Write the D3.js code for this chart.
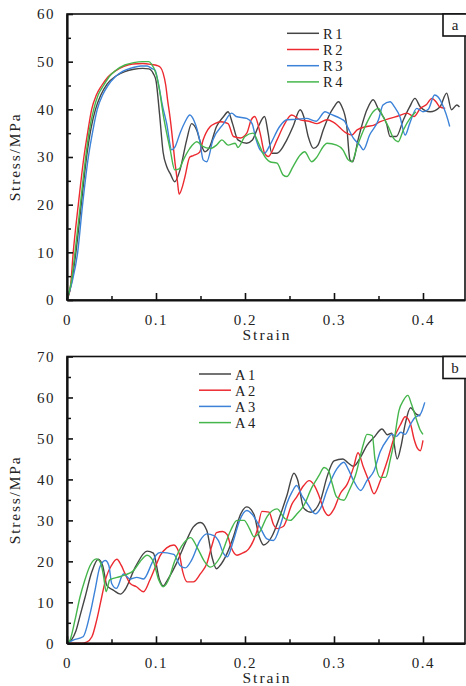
<!DOCTYPE html>
<html><head><meta charset="utf-8">
<script src="https://cdn.jsdelivr.net/npm/d3@7"></script>
<style>
body{margin:0;background:#fff;}
svg text{font-family:"Liberation Serif","Times New Roman",serif;fill:#222;}
</style></head>
<body><svg id="c" width="466" height="686"></svg>
<script>
// ---- data ----
const xTicks = [0, 0.1, 0.2, 0.3, 0.4];
const xTickLabels = ["0", "0.1", "0.2", "0.3", "0.4"];
const yTicksA = [0, 10, 20, 30, 40, 50, 60];
const yTicksB = [0, 10, 20, 30, 40, 50, 60, 70];
const namesA = ["R1", "R2", "R3", "R4"];
const namesB = ["A1", "A2", "A3", "A4"];
const colors = ["#454545", "#ec2a30", "#3b82d8", "#45b64c"];

const R1 = [[0,0],[0.005,3.5],[0.01,10],[0.016,20],[0.022,30],[0.027,36],[0.032,40],[0.038,43],[0.045,45.3],[0.055,47],[0.065,47.9],[0.075,48.4],[0.085,48.6],[0.092,48.5],[0.097,47.5],[0.1,46],[0.104,39],[0.108,31],[0.112,28],[0.116,26.5],[0.121,24.8],[0.127,27.3],[0.1345,33.6],[0.14,37],[0.146,35.5],[0.15,33],[0.155,31.1],[0.16,32],[0.168,36.4],[0.176,38.5],[0.181,39.5],[0.186,37],[0.192,33.6],[0.202,32.9],[0.208,33.5],[0.215,36.4],[0.222,38.5],[0.226,35],[0.23,30.8],[0.236,30.8],[0.247,33.6],[0.254,36.4],[0.262,39.9],[0.266,38.5],[0.271,34.3],[0.277,31.8],[0.282,32.5],[0.288,35.7],[0.294,38.5],[0.3,40.5],[0.305,41.6],[0.309,40.5],[0.314,37],[0.318,29.4],[0.321,29],[0.327,33.6],[0.337,39.9],[0.344,42],[0.35,40],[0.359,37],[0.363,34.3],[0.37,34.3],[0.378,37.8],[0.385,40.5],[0.391,42.3],[0.397,40.5],[0.408,39.5],[0.419,40.5],[0.4266,43.4],[0.432,39.9],[0.438,40.9],[0.441,40.5]];
const R2 = [[0,0],[0.004,3],[0.007,10],[0.0127,20],[0.019,30],[0.0235,35.5],[0.0277,40],[0.033,43],[0.039,45],[0.046,46.8],[0.054,48],[0.064,49],[0.074,49.5],[0.085,49.6],[0.095,49.4],[0.101,49.2],[0.105,48.8],[0.108,47.6],[0.111,45],[0.113,42],[0.116,38],[0.119,33],[0.121,29.4],[0.124,25],[0.126,22.2],[0.13,24],[0.1326,25.9],[0.138,30],[0.142,30.3],[0.149,31],[0.153,33.6],[0.161,36.4],[0.166,37],[0.173,37.4],[0.181,37],[0.187,34.3],[0.195,34],[0.202,35],[0.207,37.8],[0.211,38.5],[0.217,35],[0.222,30.8],[0.226,30.1],[0.236,33.6],[0.243,36.4],[0.2525,38.8],[0.262,37.8],[0.272,37.5],[0.281,37],[0.292,37.8],[0.3,37.2],[0.314,35],[0.32,34.6],[0.326,35.7],[0.337,36.4],[0.345,36.7],[0.352,37.4],[0.363,38.1],[0.372,38.6],[0.382,39.2],[0.39,38.5],[0.397,40.2],[0.404,41],[0.41,42.3],[0.415,41.5],[0.419,40.5],[0.425,40.2]];
const R3 = [[0,0],[0.006,4],[0.012,10],[0.0175,20],[0.024,30],[0.029,35.5],[0.034,40],[0.04,43],[0.046,45],[0.054,46.8],[0.063,48],[0.073,48.7],[0.083,49.1],[0.09,49.1],[0.095,48.6],[0.099,48.2],[0.1026,45.5],[0.107,41],[0.112,37],[0.1176,31.5],[0.121,32],[0.127,35],[0.133,37.5],[0.138,38.8],[0.143,37.5],[0.149,33.6],[0.153,29.4],[0.157,29],[0.164,33.6],[0.176,37],[0.185,39.2],[0.19,38.5],[0.202,38.1],[0.208,37],[0.212,34],[0.217,31.5],[0.222,30.8],[0.228,32.5],[0.239,36.4],[0.247,37.8],[0.258,37.9],[0.269,38.1],[0.28,37.5],[0.29,39.5],[0.296,39],[0.307,38.1],[0.312,37.5],[0.316,36],[0.322,33.9],[0.329,32.5],[0.333,31.5],[0.34,34.6],[0.35,37.8],[0.355,40.9],[0.363,41.6],[0.368,40.5],[0.374,38.5],[0.38,34.6],[0.385,37],[0.393,40.2],[0.4,39.5],[0.406,40],[0.413,43],[0.417,42.6],[0.423,40.5],[0.428,37.8],[0.43,36.4]];
const R4 = [[0,0],[0.005,4],[0.009,10],[0.015,20],[0.021,30],[0.025,35.5],[0.03,40],[0.035,43],[0.041,45],[0.048,47],[0.055,48.2],[0.065,49.3],[0.075,49.8],[0.085,50],[0.092,50],[0.095,49.5],[0.1,47.5],[0.104,44],[0.108,39],[0.112,35],[0.116,31.5],[0.121,27.3],[0.126,27.5],[0.131,29.5],[0.138,31.8],[0.146,33.2],[0.152,32.3],[0.161,31.8],[0.168,32.5],[0.174,33.6],[0.181,32.5],[0.189,32.9],[0.192,32],[0.2,34.3],[0.209,35],[0.215,33],[0.22,30.8],[0.228,29],[0.236,28.7],[0.243,26.2],[0.247,25.9],[0.254,28],[0.262,30.4],[0.267,31.1],[0.275,29],[0.28,29.8],[0.288,32.2],[0.292,32.9],[0.303,32.5],[0.31,31.5],[0.316,29.4],[0.32,29],[0.326,32.2],[0.335,36.4],[0.344,39.5],[0.35,40.2],[0.355,38.5],[0.361,36.4],[0.367,33.9],[0.372,33.2],[0.378,35.7],[0.385,38],[0.392,39.5]];

const A1 = [[0,0],[0.005,0.8],[0.01,3],[0.015,7],[0.02,11],[0.028,17.5],[0.035,20.5],[0.04,19],[0.045,14],[0.052,13],[0.06,12],[0.065,13],[0.077,18.7],[0.09,22.5],[0.097,22],[0.104,15.5],[0.108,14],[0.113,15.5],[0.123,19.5],[0.134,25],[0.142,28.4],[0.15,29.5],[0.157,27.6],[0.163,21],[0.168,18.2],[0.172,19],[0.18,22],[0.187,26],[0.195,31.5],[0.202,33.3],[0.21,31.5],[0.216,26],[0.221,24],[0.23,26],[0.24,31.5],[0.247,36],[0.255,41.5],[0.259,40],[0.266,33],[0.274,32],[0.285,35],[0.292,40.5],[0.3,44.5],[0.31,45],[0.316,44],[0.322,43.2],[0.33,45.5],[0.337,48.3],[0.345,50.3],[0.354,52.3],[0.36,50.9],[0.365,51.3],[0.371,45],[0.375,47.8],[0.38,53.5],[0.386,57.5],[0.392,56],[0.397,55.5]];
const A2 = [[0,0],[0.015,0],[0.022,0.3],[0.028,1.6],[0.0333,5.6],[0.039,11.3],[0.044,16.1],[0.05,19],[0.056,20.5],[0.061,19],[0.0652,17],[0.071,14.6],[0.078,13.8],[0.086,12.6],[0.093,15.4],[0.099,18.5],[0.105,21.5],[0.112,23.3],[0.12,24],[0.126,22],[0.13,17.5],[0.135,15],[0.142,15],[0.15,17],[0.157,19.4],[0.163,24],[0.168,27],[0.175,27.3],[0.18,26.5],[0.184,23.7],[0.191,21.5],[0.197,22],[0.204,23],[0.214,27.8],[0.219,32.2],[0.227,32],[0.232,29],[0.236,28],[0.243,28.5],[0.253,34.1],[0.258,35.7],[0.266,38.5],[0.272,39.7],[0.278,38.5],[0.283,36.1],[0.289,32.4],[0.294,31.2],[0.3,32.8],[0.307,36.5],[0.315,38.9],[0.322,43],[0.327,46.5],[0.333,43],[0.339,39.7],[0.345,36.5],[0.352,39.7],[0.36,44.6],[0.367,49.8],[0.375,53.5],[0.38,55.3],[0.386,53.5],[0.39,49.8],[0.394,47.5],[0.397,47],[0.4,49.5]];
const A3 = [[0,0],[0.007,0.8],[0.018,1.6],[0.026,7.3],[0.0315,13],[0.037,18.7],[0.043,20.2],[0.047,19],[0.0502,14.6],[0.0555,13.4],[0.0634,16.9],[0.071,15.7],[0.0784,16.1],[0.086,15.7],[0.0953,19.5],[0.1,21.5],[0.105,22.2],[0.12,21.7],[0.127,19],[0.133,18.4],[0.14,20.3],[0.1496,25.1],[0.157,26.7],[0.165,26.3],[0.17,25.1],[0.176,21.9],[0.18,21.1],[0.187,25.1],[0.194,30],[0.202,32.4],[0.208,31.5],[0.217,28.3],[0.2246,25.5],[0.232,25.1],[0.24,29],[0.247,34.1],[0.253,37],[0.258,38.5],[0.264,36],[0.27,34.1],[0.279,31.6],[0.285,33],[0.292,37.3],[0.303,42.5],[0.311,44.2],[0.316,42.5],[0.322,39.7],[0.33,37.3],[0.337,39.7],[0.345,42.1],[0.352,46.8],[0.36,49.8],[0.365,51],[0.37,50.5],[0.375,51.5],[0.38,51],[0.386,53.5],[0.391,55.1],[0.397,55.9],[0.402,58.8]];
const A4 = [[0,0],[0.0034,0.8],[0.009,5.7],[0.0146,11.3],[0.02,15.4],[0.026,19],[0.033,20.6],[0.038,19.5],[0.041,16.5],[0.044,12.6],[0.048,15.5],[0.06,16.3],[0.075,17.8],[0.082,19.9],[0.09,21.5],[0.097,20],[0.103,15.5],[0.108,13.8],[0.115,16],[0.12,19.5],[0.132,24.7],[0.139,25.8],[0.146,23.5],[0.155,19.8],[0.161,18.6],[0.172,21],[0.184,27.6],[0.191,30],[0.199,30],[0.205,28],[0.21,26],[0.216,27],[0.225,31],[0.236,32.8],[0.245,30.4],[0.251,30],[0.258,31.5],[0.266,33.6],[0.275,38],[0.283,40.9],[0.289,42.9],[0.294,42.1],[0.298,39],[0.303,35.7],[0.311,34.9],[0.317,37.3],[0.324,40.9],[0.333,48.6],[0.337,51],[0.343,50.7],[0.346,45],[0.352,40.5],[0.358,40.5],[0.363,44.6],[0.367,48.7],[0.373,56.8],[0.378,59.3],[0.383,60.5],[0.387,58.4],[0.393,54.4],[0.397,52],[0.4,51]];

// ---- drawing ----
const svg = d3.select("#c");
const X0 = 67, X1 = 465;

function panel(cfg) {
  const g = svg.append("g");
  const x = d3.scaleLinear().domain([0, 0.4472]).range([X0, X1]);
  const y = d3.scaleLinear().domain([0, cfg.yMax]).range([cfg.bottom, cfg.top]);
  const line = d3.line().x(d => x(d[0])).y(d => y(d[1])).curve(d3.curveMonotoneX);

  cfg.series.forEach((s, i) => {
    g.append("path").datum(s).attr("d", line)
      .attr("fill", "none").attr("stroke", colors[i]).attr("stroke-width", 1.4)
      .attr("stroke-linejoin", "round");
  });

  // frame
  g.append("rect").attr("x", X0).attr("y", cfg.top).attr("width", X1 - X0).attr("height", cfg.bottom - cfg.top)
    .attr("fill", "none").attr("stroke", "#111").attr("stroke-width", 1.6);

  // x axis
  const xa = g.append("g").attr("transform", `translate(0,${cfg.bottom})`)
    .call(d3.axisBottom(x).tickValues(xTicks).tickFormat((d, i) => xTickLabels[i]).tickSizeInner(-7).tickSizeOuter(0).tickPadding(14));
  xa.select(".domain").attr("stroke", "#111").attr("stroke-width", 2.2);
  xa.selectAll(".tick line").attr("stroke", "#111").attr("stroke-width", 1.6);
  xa.selectAll("text").style("font-size", "15px").style("letter-spacing", "1.5px").attr("fill", "#222").attr("font-family", "Liberation Serif");
  const xm = g.append("g").attr("transform", `translate(0,${cfg.bottom})`)
    .call(d3.axisBottom(x).tickValues([0.05, 0.15, 0.25, 0.35]).tickFormat("").tickSizeInner(-4).tickSizeOuter(0));
  xm.select(".domain").remove();
  xm.selectAll(".tick line").attr("stroke", "#111").attr("stroke-width", 1.5);

  // y axis
  const ya = g.append("g").attr("transform", `translate(${X0},0)`)
    .call(d3.axisLeft(y).tickValues(cfg.yTicks).tickFormat(d => String(d)).tickSizeInner(-6).tickSizeOuter(0).tickPadding(12));
  ya.select(".domain").attr("stroke", "#111").attr("stroke-width", 2.2);
  ya.selectAll(".tick line").attr("stroke", "#111").attr("stroke-width", 1.6);
  ya.selectAll("text").style("font-size", "15px").style("letter-spacing", "1.5px").attr("fill", "#222").attr("font-family", "Liberation Serif");
  const yMinor = d3.range(5, cfg.yMax, 10);
  const ym = g.append("g").attr("transform", `translate(${X0},0)`)
    .call(d3.axisLeft(y).tickValues(yMinor).tickFormat("").tickSizeInner(-4).tickSizeOuter(0));
  ym.select(".domain").remove();
  ym.selectAll(".tick line").attr("stroke", "#111").attr("stroke-width", 1.5);

  // axis titles
  g.append("text").attr("x", 267).attr("y", cfg.bottom + 40).attr("text-anchor", "middle")
    .style("font-size", "15.5px").style("letter-spacing", "2px").text("Strain");
  g.append("text").attr("transform", `translate(20,${(cfg.top + cfg.bottom) / 2}) rotate(-90)`)
    .attr("text-anchor", "middle").style("font-size", "15.5px").style("letter-spacing", "1.8px").text("Stress/MPa");

  // panel tag
  g.append("rect").attr("x", 443).attr("y", cfg.top).attr("width", 24).attr("height", 22)
    .attr("fill", "#fff").attr("stroke", "#111").attr("stroke-width", 1.6);
  g.append("text").attr("x", 455).attr("y", cfg.top + 16).attr("text-anchor", "middle")
    .style("font-size", "15px").text(cfg.tag);

  // legend
  cfg.names.forEach((n, i) => {
    const ly = cfg.legY + i * 16.2;
    g.append("line").attr("x1", cfg.legX).attr("x2", cfg.legX + 32).attr("y1", ly).attr("y2", ly)
      .attr("stroke", colors[i]).attr("stroke-width", 1.5);
    g.append("text").attr("x", cfg.legX + 36).attr("y", ly + 5.5)
      .style("font-size", "14.5px").style("letter-spacing", "2.5px").text(n);
  });
}

panel({top: 14, bottom: 300, yMax: 60, yTicks: yTicksA, series: [R1, R2, R3, R4], names: namesA, tag: "a", legX: 287, legY: 33.3});
panel({top: 356.5, bottom: 643.3, yMax: 70, yTicks: yTicksB, series: [A1, A2, A3, A4], names: namesB, tag: "b", legX: 199, legY: 374});
</script></body></html>
